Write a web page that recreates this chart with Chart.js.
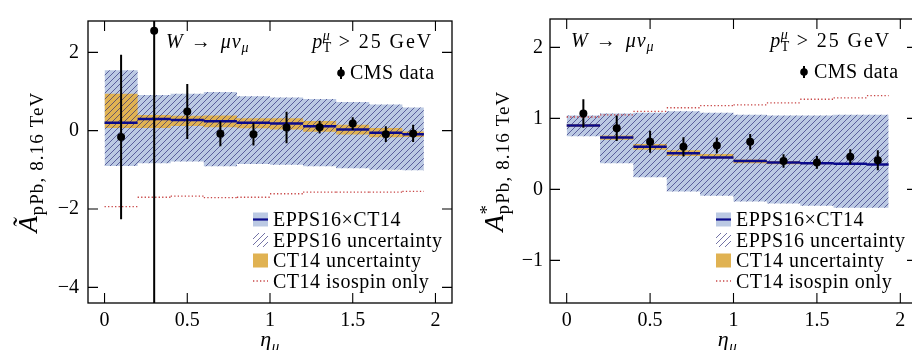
<!DOCTYPE html>
<html>
<head>
<meta charset="utf-8">
<script src="https://cdn.jsdelivr.net/npm/chart.js@4/dist/chart.umd.min.js"></script>
<style>
  body { margin: 0; width: 912px; height: 350px; overflow: hidden; background: #fff; position: relative; }
  canvas { position: absolute; top: 0; }
</style>
</head>
<body>
<canvas id="fbRatio" width="456" height="350" style="left:0"></canvas>
<canvas id="asym" width="470" height="350" style="left:456px"></canvas>
<script>
// bins in eta_mu and data-point positions
const etaEdges = [0, 0.2, 0.4, 0.6, 0.8, 1.0, 1.2, 1.4, 1.6, 1.8, 1.93];
const etaPoints = [0.1, 0.3, 0.5, 0.7, 0.9, 1.1, 1.3, 1.5, 1.7, 1.865];
const xTicks = [0, 0.5, 1, 1.5, 2];

// left panel: forward-backward ratio
const fbCms = [-0.16, 2.55, 0.49, -0.08, -0.09, 0.08, 0.09, 0.18, -0.09, -0.07];
const fbCmsErr = [2.1, 9, 0.7, 0.32, 0.29, 0.4, 0.165, 0.165, 0.2, 0.22];
const fbMid = [0.20, 0.30, 0.27, 0.24, 0.20, 0.18, 0.11, 0.03, -0.05, -0.09];
const fbEppsHi = [1.54, 0.91, 0.94, 0.99, 0.88, 0.85, 0.81, 0.73, 0.67, 0.59];
const fbEppsLo = [-0.90, -0.83, -0.79, -0.91, -0.85, -0.87, -0.91, -0.96, -1.00, -1.01];
const fbCtHi = [0.94, 0.40, 0.38, 0.39, 0.32, 0.32, 0.25, 0.15, 0.07, -0.02];
const fbCtLo = [0.07, 0.07, 0.12, 0.09, 0.06, 0.03, -0.03, -0.10, -0.17, -0.16];
const fbIso = [-1.94, -1.70, -1.67, -1.71, -1.70, -1.61, -1.57, -1.57, -1.57, -1.55];
const fbYTicks = [-4, -2, 0, 2];

// right panel: charge asymmetry
const asCms = [1.07, 0.86, 0.67, 0.60, 0.62, 0.67, 0.40, 0.38, 0.46, 0.41];
const asCmsErr = [0.2, 0.18, 0.155, 0.135, 0.11, 0.11, 0.095, 0.09, 0.105, 0.14];
const asMid = [0.90, 0.73, 0.60, 0.51, 0.45, 0.40, 0.38, 0.37, 0.36, 0.35];
const asEppsHi = [1.04, 1.07, 1.08, 1.10, 1.08, 1.05, 1.04, 1.04, 1.05, 1.05];
const asEppsLo = [0.75, 0.37, 0.17, -0.03, -0.09, -0.17, -0.20, -0.23, -0.26, -0.26];
const asCtHi = [0.92, 0.76, 0.64, 0.55, 0.50, 0.42, 0.40, 0.385, 0.37, 0.36];
const asCtLo = [0.88, 0.70, 0.56, 0.47, 0.43, 0.37, 0.355, 0.355, 0.35, 0.34];
const asIso = [1.02, 1.05, 1.10, 1.15, 1.18, 1.19, 1.22, 1.27, 1.29, 1.32];
const asYTicks = [-1, 0, 1, 2];

const legendLabels = ['EPPS16×CT14', 'EPPS16 uncertainty', 'CT14 uncertainty', 'CT14 isospin only'];
const dataLabel = 'CMS data';

const SERIF = '"Liberation Serif", "DejaVu Serif", serif';
const BLUE = 'rgb(187,201,227)';
const ORANGE = 'rgb(224,178,82)';
const NAVY = '#0b0b8c';
const RED = 'rgb(200,70,70)';

function makeHatch() {
  const c = document.createElement('canvas');
  c.width = c.height = 6;
  const g = c.getContext('2d');
  g.strokeStyle = 'rgba(35,35,115,0.85)';
  g.lineWidth = 0.75;
  g.beginPath();
  g.moveTo(0, 6); g.lineTo(6, 0);
  g.moveTo(-1, 1); g.lineTo(1, -1);
  g.moveTo(5, 7); g.lineTo(7, 5);
  g.stroke();
  return g.createPattern(c, 'repeat');
}
const hatch = makeHatch();

// bands: contiguous steps over the bins
function stepPts(vals) {
  const p = [];
  vals.forEach((v, i) => p.push({x: etaEdges[i], y: v}, {x: etaEdges[i + 1], y: v}));
  return p;
}
// separate horizontal segment per bin
function segPts(vals) {
  const p = [];
  vals.forEach((v, i) => p.push({x: etaEdges[i], y: v}, {x: etaEdges[i + 1], y: v}, {x: etaEdges[i + 1], y: null}));
  return p;
}
function errPts(vals, errs) {
  const p = [];
  vals.forEach((v, i) => p.push({x: etaPoints[i], y: v - errs[i]}, {x: etaPoints[i], y: v + errs[i]}, {x: etaPoints[i], y: null}));
  return p;
}
const fmt = v => v < 0 ? '\u2212' + (-v) : String(v);

function drawRich(ctx, runs, x, y, align) {
  const items = [];
  let cur = 0, prevX = 0;
  const setFont = r => {
    ctx.font = (r.it ? 'italic ' : '') + r.size + 'px ' + SERIF;
    ctx.letterSpacing = (r.ls !== undefined ? r.ls : 0.5) + 'px';
  };
  runs.forEach(r => {
    setFont(r);
    const w = ctx.measureText(r.t).width;
    const x0 = r.stack ? prevX : cur;
    cur = r.stack ? Math.max(cur, x0 + w) : x0 + w;
    items.push({r, x0});
    prevX = x0;
  });
  const start = align === 'right' ? x - cur : align === 'center' ? x - cur / 2 : x;
  ctx.textAlign = 'left';
  ctx.textBaseline = 'alphabetic';
  ctx.fillStyle = '#000';
  items.forEach(({r, x0}) => {
    setFont(r);
    ctx.fillText(r.t, start + x0, y + (r.dy || 0));
  });
  ctx.letterSpacing = '0px';
}

const procRuns = [
  {t: 'W', it: true, size: 20}, {t: ' \u2192 ', size: 20, ls: 2.5},
  {t: 'μν', it: true, size: 20, ls: 1}, {t: 'μ', it: true, size: 14, dy: 4}
];
const cutRuns = [
  {t: 'p', it: true, size: 20}, {t: 'μ', it: true, size: 14, dy: -8},
  {t: 'T', size: 14, dy: 4, stack: true}, {t: ' > 25 GeV', size: 20, ls: 1.9}
];
const xTitleRuns = [{t: 'η', it: true, size: 22}, {t: 'μ', it: true, size: 15, dy: 5}];

const overlay = {
  id: 'overlay',
  afterDraw(chart, args, o) {
    const {ctx, chartArea: a, scales: {x, y}} = chart;
    ctx.save();
    // frame and inward ticks
    ctx.strokeStyle = '#000';
    ctx.lineWidth = 1.3;
    ctx.strokeRect(a.left, a.top, a.right - a.left, a.bottom - a.top);
    ctx.beginPath();
    x.ticks.forEach(t => {
      const px = x.getPixelForValue(t.value);
      ctx.moveTo(px, a.bottom); ctx.lineTo(px, a.bottom - 10);
      ctx.moveTo(px, a.top); ctx.lineTo(px, a.top + 10);
    });
    y.ticks.forEach(t => {
      const py = y.getPixelForValue(t.value);
      ctx.moveTo(a.left, py); ctx.lineTo(a.left + 10, py);
      ctx.moveTo(a.right, py); ctx.lineTo(a.right - 10, py);
    });
    ctx.lineWidth = 1.1;
    ctx.stroke();

    drawRich(ctx, procRuns, o.procX, o.textY, 'left');
    drawRich(ctx, cutRuns, o.cutX, o.textY, 'right');

    // CMS data key
    ctx.fillStyle = '#000';
    ctx.lineWidth = 2;
    ctx.beginPath();
    ctx.moveTo(o.cmsX, o.cmsY - 6); ctx.lineTo(o.cmsX, o.cmsY + 6);
    ctx.stroke();
    ctx.beginPath();
    ctx.arc(o.cmsX, o.cmsY, 3.8, 0, Math.PI * 2);
    ctx.fill();
    drawRich(ctx, [{t: dataLabel, size: 20}], o.cmsTextX, o.cmsY + 6, 'left');

    // legend
    const sx = o.legX, rows = o.legRows;
    rows.forEach((b, i) => {
      const c = b - 6.5;
      if (i === 0) {
        ctx.fillStyle = BLUE;
        ctx.fillRect(sx, c - 7, 15, 14);
        ctx.strokeStyle = NAVY; ctx.lineWidth = 2.2;
        ctx.beginPath(); ctx.moveTo(sx, c); ctx.lineTo(sx + 15, c); ctx.stroke();
      } else if (i === 1) {
        ctx.fillStyle = hatch;
        ctx.fillRect(sx, c - 7, 15, 14);
      } else if (i === 2) {
        ctx.fillStyle = ORANGE;
        ctx.fillRect(sx, c - 7, 15, 14);
      } else {
        ctx.strokeStyle = RED; ctx.lineWidth = 1.3; ctx.setLineDash([1.3, 2.2]);
        ctx.beginPath(); ctx.moveTo(sx, c); ctx.lineTo(sx + 15, c); ctx.stroke();
        ctx.setLineDash([]);
      }
      drawRich(ctx, [{t: legendLabels[i], size: 20}], o.legTextX, b, 'left');
    });

    // axis titles
    drawRich(ctx, xTitleRuns, (a.left + a.right) / 2 + o.xTitleShift, 346, 'center');
    ctx.save();
    ctx.translate(o.yTitleX, (a.top + a.bottom) / 2);
    ctx.rotate(-Math.PI / 2);
    drawRich(ctx, o.yTitle, 0, 0, 'center');
    ctx.restore();
    ctx.restore();
  }
};

function panel(id, d, o) {
  const line = {pointRadius: 0, borderColor: 'rgba(0,0,0,0)', borderWidth: 0};
  return new Chart(document.getElementById(id), {
    type: 'line',
    data: {
      datasets: [
        {data: errPts(d.cms, d.err), borderColor: '#000', borderWidth: 2, pointRadius: 0, spanGaps: false, clip: 0},
        {data: d.cms.map((v, i) => ({x: etaPoints[i], y: v})), showLine: false, pointRadius: 4,
         pointBackgroundColor: '#000', pointBorderWidth: 0},
        {data: segPts(d.mid), borderColor: NAVY, borderWidth: 2.5, pointRadius: 0, spanGaps: false},
        {data: segPts(d.iso), borderColor: RED, borderWidth: 1.3, borderDash: [1.3, 2.2], pointRadius: 0, spanGaps: false},
        {...line, data: stepPts(d.hi)},
        {...line, data: stepPts(d.lo), fill: 4, backgroundColor: hatch},
        {...line, data: stepPts(d.ctHi)},
        {...line, data: stepPts(d.ctLo), fill: 6, backgroundColor: ORANGE},
        {...line, data: stepPts(d.hi)},
        {...line, data: stepPts(d.lo), fill: 8, backgroundColor: BLUE}
      ]
    },
    options: {
      responsive: false,
      animation: false,
      events: [],
      layout: {padding: {left: 0, right: o.padR, top: 13, bottom: 0}},
      plugins: {legend: {display: false}, tooltip: {enabled: false}, overlay: o},
      scales: {
        x: {
          type: 'linear', min: -0.1, max: 2.1,
          grid: {display: false, drawTicks: false}, border: {display: false},
          afterBuildTicks: s => { s.ticks = xTicks.map(v => ({value: v})); },
          afterFit: s => { s.height = 47; },
          ticks: {font: {family: SERIF, size: 20}, color: '#000', padding: 6, maxRotation: 0, callback: fmt}
        },
        y: {
          type: 'linear', min: o.yMin, max: o.yMax,
          grid: {display: false, drawTicks: false}, border: {display: false},
          afterBuildTicks: s => { s.ticks = o.yTicks.map(v => ({value: v})); },
          afterFit: s => { s.width = o.yWidth; },
          ticks: {font: {family: SERIF, size: 20}, color: '#000', padding: o.yPad, callback: fmt}
        }
      }
    },
    plugins: [overlay]
  });
}

panel('fbRatio',
  {cms: fbCms, err: fbCmsErr, mid: fbMid, hi: fbEppsHi, lo: fbEppsLo, ctHi: fbCtHi, ctLo: fbCtLo, iso: fbIso},
  {padR: 3, yMin: -4.4, yMax: 2.8, yTicks: fbYTicks, yWidth: 88, yPad: 9,
   procX: 166, cutX: 433, textY: 48, cmsX: 341, cmsY: 73, cmsTextX: 350,
   legX: 253, legTextX: 273, legRows: [226, 246.5, 267, 287.5],
   xTitleShift: 0, yTitleX: 37,
   yTitle: [{t: 'Ã', it: true, size: 27}, {t: 'pPb, 8.16 TeV', size: 19, dy: 6, ls: 1.1}]});

panel('asym',
  {cms: asCms, err: asCmsErr, mid: asMid, hi: asEppsHi, lo: asEppsLo, ctHi: asCtHi, ctLo: asCtLo, iso: asIso},
  {padR: 9, yMin: -1.6, yMax: 2.4, yTicks: asYTicks, yWidth: 94, yPad: 7,
   procX: 115, cutX: 435, textY: 47, cmsX: 348, cmsY: 72, cmsTextX: 358,
   legX: 260, legTextX: 280, legRows: [226, 246.5, 267, 287.5],
   xTitleShift: -6, yTitleX: 47,
   yTitle: [{t: 'A', it: true, size: 27}, {t: '*', size: 19, dy: -10}, {t: 'pPb, 8.16 TeV', size: 19, dy: 6, ls: 1.1, stack: true}]});
</script>
</body>
</html>
